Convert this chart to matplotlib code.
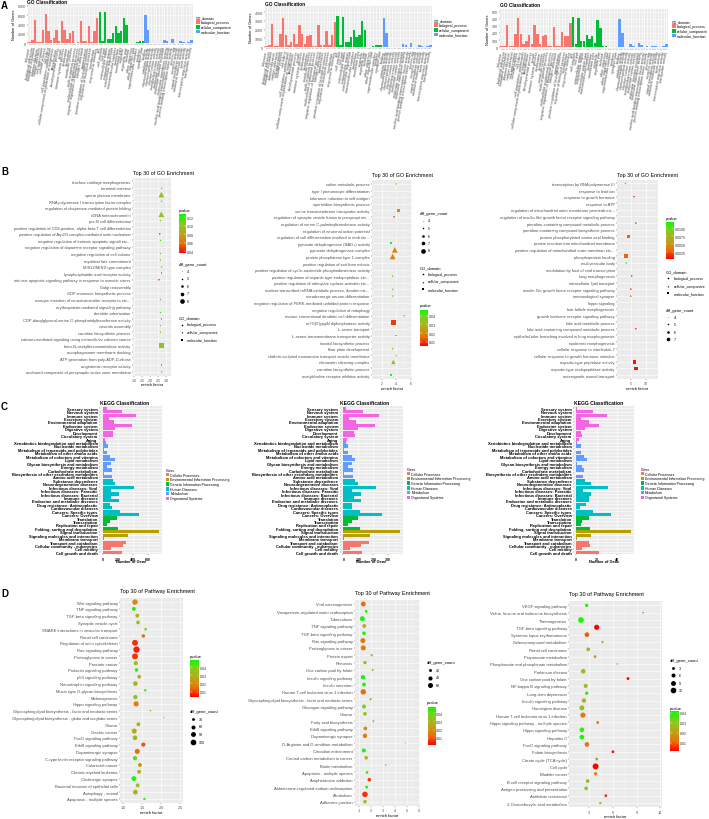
import matplotlib
matplotlib.use("Agg")
import matplotlib.pyplot as plt
import numpy as np
from matplotlib.colors import LinearSegmentedColormap, Normalize
from matplotlib.patches import Rectangle

plt.rcParams['font.family'] = ['Liberation Sans', 'DejaVu Sans']

# ---------------- data: A (GO classification) ----------------
go_bp = ["behavior", "biological adhesion", "biological regulation", "biomineralization",
         "carbon utilization", "cell aggregation", "cellular process", "cell killing",
         "cell population proliferation", "cellular component organization or biogenesis",
         "detoxification", "developmental process", "growth", "immune system process",
         "localization", "locomotion", "metabolic process", "multi-organism process",
         "multicellular organismal process", "negative regulation of biological process",
         "nitrogen utilization", "pigmentation", "positive regulation of biological process",
         "regulation of biological process", "reproduction", "response to stimulus"]
go_cc = ["cell", "cell junction", "cell part", "extracellular matrix", "extracellular region",
         "extracellular region part", "macromolecular complex", "membrane", "membrane part",
         "organelle", "organelle part", "nucleoid", "other organism", "other organism part",
         "supramolecular complex", "synapse", "synapse part"]
go_mf = ["binding", "catalytic activity", "chemoattractant activity", "chemorepellent activity",
         "electron carrier activity", "metallochaperone activity", "molecular carrier activity",
         "molecular function regulator", "molecular transducer activity",
         "nucleic acid binding transcription factor activity",
         "protein binding transcription factor activity", "protein tag", "receptor activity",
         "signal transducer activity", "structural molecule activity", "toxin activity",
         "transcription regulator activity", "transporter activity"]
go_terms = go_bp + go_cc + go_mf
go_domain = ["biological_process"] * len(go_bp) + ["cellular_component"] * len(go_cc) + \
            ["molecular_function"] * len(go_mf)

a1_bp = [300, 600, 4900, 200, 300, 2800, 6300, 2700, 600, 1200, 2800, 400, 4700, 2800, 1000,
         2300, 2700, 100, 200, 4700, 400, 400, 3600, 300, 2600, 5400]
a1_cc = [6700, 400, 6600, 1000, 1000, 2300, 3600, 2300, 2700, 5500, 4000, 50, 100, 100, 300, 500, 500]
a1_mf = [6100, 2900, 0, 100, 0, 0, 0, 800, 400, 0, 1000, 100, 0, 400, 200, 0, 200, 600]

a2_bp = [100, 300, 2600, 100, 100, 1500, 3300, 1400, 200, 600, 1500, 400, 2500, 1500, 400,
         1300, 1400, 100, 100, 2500, 200, 200, 1900, 200, 1400, 2900]
a2_cc = [3600, 300, 3500, 600, 600, 1200, 2000, 1200, 1400, 3000, 2000, 20, 0, 100, 300, 250, 200]
a2_mf = [3300, 1600, 0, 0, 0, 0, 0, 400, 200, 0, 500, 0, 0, 200, 100, 0, 100, 300]

a3_bp = [20, 20, 310, 10, 10, 180, 410, 180, 40, 80, 170, 40, 310, 180, 40, 150, 170, 10, 10,
         290, 10, 10, 220, 160, 150, 340]
a3_cc = [430, 40, 410, 90, 90, 170, 120, 150, 60, 380, 270, 20, 10, 5, 5, 5, 5]
a3_mf = [390, 200, 0, 0, 40, 10, 0, 60, 30, 0, 10, 0, 10, 20, 0, 0, 10, 40]

# ---------------- data: B (GO enrichment) ----------------
b1_terms = ["trachea cartilage morphogenesis", "terminal cisterna", "sperm plasma membrane",
            "RNA polymerase I transcription factor complex",
            "regulation of chaperone-mediated protein folding", "rDNA heterochromatin",
            "pre-B cell differentiation",
            "positive regulation of CD8-positive, alpha-beta T cell differentiation",
            "positive regulation of Arp2/3 complex-mediated actin nucleation",
            "negative regulation of intrinsic apoptotic signali etc...",
            "negative regulation of dopamine receptor signaling pathway",
            "negative regulation of cell volume", "myoblast fate commitment",
            "MIS12/MIND type complex", "lysophosphatidic acid receptor activity",
            "intrinsic apoptotic signaling pathway in response to osmotic stress",
            "Golgi reassembly", "GDP-mannose biosynthetic process",
            "exocytic insertion of neurotransmitter receptor to etc...",
            "erythropoietin-mediated signaling pathway", "dendrite arborization",
            "CDP-diacylglycerol-serine O-phosphatidyltransferase activity", "caveola assembly",
            "carnitine biosynthetic process",
            "calcium-mediated signaling using extracellular calcium source",
            "beta-N-acetylhexosaminidase activity", "autophagosome membrane docking",
            "ATP generation from poly-ADP-D-ribose", "angiotensin receptor activity",
            "anchored component of presynaptic active zone membrane"]
b1_x = [2.7, 2.72, 2.7, 2.72, 2.7, 2.7, 2.65, 2.7, 2.6, 2.65, 2.7, 2.65, 2.65, 2.72, 2.72,
        2.55, 2.7, 2.7, 2.65, 2.7, 2.65, 2.72, 2.65, 2.65, 2.7, 2.72, 2.7, 2.7, 2.72, 2.72]
b1_count = [4, 5, 8, 5, 4, 8, 5, 4, 5, 5, 4, 5, 5, 5, 5, 5, 4, 4, 5, 4, 5, 5, 5, 5, 4, 8, 4, 4, 5, 5]
b1_p = [0.125, 0.12, 0.1, 0.12, 0.125, 0.1, 0.105, 0.125, 0.04, 0.115, 0.125, 0.115, 0.11,
        0.12, 0.12, 0.04, 0.125, 0.125, 0.11, 0.125, 0.115, 0.12, 0.11, 0.1, 0.125, 0.1,
        0.125, 0.125, 0.12, 0.12]
b1_dom = ["BP", "CC", "CC", "CC", "BP", "CC", "BP", "BP", "BP", "BP", "BP", "BP", "BP", "CC",
          "MF", "BP", "BP", "BP", "BP", "BP", "BP", "MF", "BP", "BP", "BP", "MF", "BP", "BP",
          "MF", "CC"]

b2_terms = ["valine metabolic process", "type I pneumocyte differentiation",
            "tolerance induction to self antigen", "spermidine biosynthetic process",
            "serine transmembrane transporter activity",
            "regulation of synaptic vesicle fusion to presynapt etc...",
            "regulation of serine C-palmitoyltransferase activity",
            "regulation of neuronal action potential",
            "regulation of cell differentiation involved in emb etc...",
            "pyruvate dehydrogenase (NAD+) activity", "pyruvate dehydrogenase complex",
            "protein phosphatase type 1 complex", "positive regulation of exit from mitosis",
            "positive regulation of cyclic-nucleotide phosphodiesterase activity",
            "positive regulation of aspartic-type endopeptidase etc...",
            "positive regulation of adenylate cyclase-activatin etc...",
            "nuclear-transcribed mRNA catabolic process, deaden etc...",
            "noradrenergic neuron differentiation",
            "negative regulation of PERK-mediated unfolded protein response",
            "negative regulation of mitophagy",
            "mature conventional dendritic cell differentiation",
            "m7G(5')pppN diphosphatase activity", "L-serine transport",
            "L-serine transmembrane transporter activity", "inositol biosynthetic process",
            "floor plate development", "clathrin-sculpted monoamine transport vesicle membrane",
            "chromatin silencing complex", "carnitine biosynthetic process",
            "acetylcholine receptor inhibitor activity"]
b2_x = [4.0, 4.0, 4.0, 4.0, 4.3, 3.7, 4.0, 4.0, 4.0, 3.3, 3.8, 3.5, 4.0, 4.0, 3.5, 4.0, 3.5,
        3.5, 4.0, 4.0, 5.1, 3.6, 4.0, 4.0, 4.0, 3.5, 4.0, 3.6, 4.0, 3.3]
b2_count = [5, 4, 4, 4, 7, 5, 4, 4, 4, 5, 8, 8, 4, 4, 5, 4, 5, 5, 4, 4, 5, 8, 4, 5, 4, 5, 5, 7, 4, 5]
b2_p = [0.035, 0.045, 0.045, 0.045, 0.02, 0.008, 0.045, 0.045, 0.045, 0.045, 0.018, 0.018,
        0.045, 0.045, 0.04, 0.045, 0.04, 0.04, 0.045, 0.045, 0.025, 0.01, 0.045, 0.035, 0.045,
        0.035, 0.035, 0.03, 0.045, 0.045]
b2_dom = ["BP", "BP", "BP", "BP", "MF", "BP", "BP", "BP", "BP", "MF", "CC", "CC", "BP", "BP",
          "BP", "BP", "BP", "BP", "BP", "BP", "BP", "MF", "BP", "MF", "BP", "BP", "CC", "CC",
          "BP", "MF"]

b3_terms = ["transcription by RNA polymerase III", "response to lead ion",
            "response to growth hormone", "response to ATP",
            "regulation of mitochondrial outer membrane permeab etc...",
            "regulation of insulin-like growth factor receptor signaling pathway",
            "pteridine-containing compound metabolic process",
            "pteridine-containing compound biosynthetic process",
            "protein phosphorylated amino acid binding",
            "protein insertion into mitochondrial membrane",
            "positive regulation of mitochondrial outer membran etc...",
            "phosphoprotein binding", "multivesicular body",
            "modulation by host of viral transcription", "lung morphogenesis",
            "intracellular lipid transport",
            "insulin-like growth factor receptor signaling pathway", "immunological synapse",
            "hippo signaling", "hair follicle morphogenesis",
            "growth hormone receptor signaling pathway", "folic acid metabolic process",
            "folic acid-containing compound metabolic process",
            "epithelial tube branching involved in lung morphogenesis",
            "epidermis morphogenesis", "cellular response to interleukin-7",
            "cellular response to growth hormone stimulus", "aspartic-type peptidase activity",
            "aspartic-type endopeptidase activity", "anterograde axonal transport"]
b3_x = [3.2, 6.0, 6.1, 6.0, 6.0, 6.0, 6.7, 6.0, 4.3, 6.0, 6.0, 3.4, 3.5, 6.0, 5.3, 6.0, 5.0,
        5.0, 6.0, 6.0, 6.0, 6.0, 6.7, 6.0, 6.0, 6.0, 6.0, 6.2, 6.7, 6.0]
b3_count = [5, 4, 5, 4, 4, 4, 5, 4, 6, 4, 4, 7, 5, 4, 5, 4, 5, 5, 4, 4, 4, 4, 5, 4, 4, 4, 4, 7, 7, 4]
b3_p = [0.0075, 0.011, 0.001, 0.011, 0.011, 0.011, 0.001, 0.011, 0.003, 0.011, 0.011, 0.003,
        0.011, 0.011, 0.001, 0.011, 0.001, 0.002, 0.011, 0.011, 0.011, 0.011, 0.001, 0.011,
        0.011, 0.011, 0.011, 0.0008, 0.0008, 0.011]
b3_dom = ["BP", "BP", "BP", "BP", "BP", "BP", "BP", "BP", "MF", "BP", "BP", "MF", "CC", "BP",
          "BP", "BP", "BP", "CC", "BP", "BP", "BP", "BP", "BP", "BP", "BP", "BP", "BP", "MF",
          "MF", "BP"]

# ---------------- data: C (KEGG classification) ----------------
kegg_terms = ["Sensory system", "Nervous system", "Immune system", "Excretory system",
              "Environmental adaptation", "Endocrine system", "Digestive system", "Development",
              "Circulatory system", "Aging",
              "Xenobiotics biodegradation and metabolism", "Nucleotide metabolism",
              "Metabolism of terpenoids and polyketides", "Metabolism of other amino acids",
              "Metabolism of cofactors and vitamins", "Lipid metabolism",
              "Glycan biosynthesis and metabolism", "Energy metabolism",
              "Carbohydrate metabolism", "Biosynthesis of other secondary metabolites",
              "Amino acid metabolism",
              "Substance dependence", "Neurodegenerative diseases", "Infectious diseases: Viral",
              "Infectious diseases: Parasitic", "Infectious diseases: Bacterial",
              "Immune diseases", "Endocrine and metabolic diseases",
              "Drug resistance: Antineoplastic", "Cardiovascular diseases",
              "Cancers: Specific types", "Cancers: Overview",
              "Translation", "Transcription", "Replication and repair",
              "Folding, sorting and degradation",
              "Signal transduction", "Signaling molecules and interaction", "Membrane transport",
              "Transport and catabolism", "Cellular community - eukaryotes", "Cell motility",
              "Cell growth and death"]
kegg_class = ["Organismal Systems"] * 10 + ["Metabolism"] * 11 + ["Human Diseases"] * 11 + \
             ["Genetic Information Processing"] * 4 + \
             ["Environmental Information Processing"] * 3 + ["Cellular Processes"] * 4
c1_vals = [50, 250, 440, 80, 150, 390, 160, 130, 130, 30, 40, 70, 10, 50, 100, 160, 110, 60,
           120, 10, 120, 130, 160, 420, 110, 210, 110, 210, 90, 120, 230, 480, 190, 100, 60,
           200, 750, 330, 10, 310, 270, 110, 250]
c2_vals = [20, 130, 240, 40, 85, 210, 95, 70, 75, 25, 20, 30, 5, 30, 55, 80, 55, 30, 65, 5, 65,
           80, 95, 220, 60, 120, 70, 120, 55, 60, 110, 260, 100, 55, 30, 110, 380, 175, 5, 170,
           120, 45, 125]
c3_vals = [1, 17, 30, 5, 13, 22, 9, 5, 6, 3, 1, 5, 0, 5, 8, 11, 1, 6, 8, 0, 7, 9, 15, 31, 7, 15,
           13, 13, 10, 4, 17, 34, 13, 6, 5, 14, 54, 15, 1, 13, 14, 6, 22]

# ---------------- data: D (pathway enrichment) ----------------
d1_terms = ["Wnt signaling pathway", "TNF signaling pathway", "TGF-beta signaling pathway",
            "Synaptic vesicle cycle", "SNARE interactions in vesicular transport",
            "Renal cell carcinoma", "Regulation of actin cytoskeleton", "Ras signaling pathway",
            "Proteoglycans in cancer", "Prostate cancer", "Prolactin signaling pathway",
            "p53 signaling pathway", "Neurotrophin signaling pathway",
            "Mucin type O-glycan biosynthesis", "Melanogenesis", "Hippo signaling pathway",
            "Glycosphingolipid biosynthesis - lacto and neolacto series",
            "Glycosphingolipid biosynthesis - globo and isoglobo series", "Glioma",
            "Gastric cancer", "FoxO signaling pathway", "ErbB signaling pathway",
            "Dopaminergic synapse", "C-type lectin receptor signaling pathway",
            "Colorectal cancer", "Chronic myeloid leukemia", "Cholinergic synapse",
            "Bacterial invasion of epithelial cells", "Autophagy - animal",
            "Apoptosis - multiple species"]
d1_x = [1.31, 1.28, 1.37, 1.39, 1.59, 1.53, 1.31, 1.35, 1.31, 1.33, 1.35, 1.42, 1.32, 1.58,
        1.32, 1.34, 1.72, 2.07, 1.40, 1.29, 1.31, 1.53, 1.37, 1.31, 1.44, 1.42, 1.28, 1.38,
        1.32, 1.56]
d1_count = [110, 55, 55, 50, 25, 45, 130, 150, 130, 65, 45, 50, 80, 22, 70, 100, 10, 6, 55, 95,
            80, 65, 95, 70, 55, 55, 85, 55, 85, 22]
d1_p = [0.02, 0.046, 0.028, 0.033, 0.04, 0.014, 0.008, 0.006, 0.008, 0.035, 0.047, 0.026,
        0.03, 0.04, 0.034, 0.017, 0.028, 0.03, 0.028, 0.027, 0.032, 0.012, 0.014, 0.04, 0.02,
        0.028, 0.047, 0.034, 0.028, 0.042]

d2_terms = ["Viral carcinogenesis", "Vasopressin-regulated water reabsorption", "Tuberculosis",
            "TNF signaling pathway", "TGF-beta signaling pathway", "Ras signaling pathway",
            "Proteoglycans in cancer", "Protein export", "Pertussis",
            "One carbon pool by folate", "Insulin signaling pathway", "Insulin secretion",
            "Human T-cell leukemia virus 1 infection",
            "Glycosphingolipid biosynthesis - lacto and neolacto series",
            "Glucagon signaling pathway", "Glioma", "Fatty acid biosynthesis",
            "ErbB signaling pathway", "Dopaminergic synapse",
            "D-Arginine and D-ornithine metabolism", "Circadian entrainment",
            "Central carbon metabolism in cancer", "Biotin metabolism",
            "Apoptosis - multiple species", "Amphetamine addiction",
            "Aldosterone-regulated sodium reabsorption", "Alcoholism", "Adherens junction"]
d2_x = [1.36, 1.6, 1.28, 1.44, 1.42, 1.33, 1.36, 2.06, 1.5, 2.14, 1.33, 1.42, 1.36, 1.97,
        1.42, 1.5, 2.2, 1.53, 1.5, 4.86, 1.4, 1.6, 3.22, 1.67, 1.86, 1.64, 1.5, 1.5]
d2_count = [55, 18, 55, 35, 30, 60, 60, 12, 28, 10, 45, 35, 70, 12, 38, 32, 8, 32, 45, 3, 38,
            30, 5, 18, 30, 20, 72, 30]
d2_p = [0.012, 0.046, 0.047, 0.028, 0.046, 0.014, 0.014, 0.027, 0.035, 0.027, 0.046, 0.045,
        0.012, 0.028, 0.038, 0.035, 0.04, 0.018, 0.014, 0.028, 0.045, 0.027, 0.046, 0.042,
        0.007, 0.045, 0.006, 0.034]

d3_terms = ["VEGF signaling pathway", "Valine, leucine and isoleucine biosynthesis",
            "Thermogenesis", "TGF-beta signaling pathway", "Systemic lupus erythematosus",
            "Selenocompound metabolism", "Renal cell carcinoma", "Propanoate metabolism",
            "Phosphonate and phosphinate metabolism", "Parkinson disease",
            "One carbon pool by folate", "NF-kappa B signaling pathway", "Long-term depression",
            "Insulin signaling pathway", "Huntington disease",
            "Human T-cell leukemia virus 1 infection",
            "Hippo signaling pathway - multiple species", "Hippo signaling pathway",
            "Hepatitis C", "FoxO signaling pathway", "Folate biosynthesis",
            "Citrate cycle (TCA cycle)", "Cell cycle", "Bladder cancer",
            "B cell receptor signaling pathway", "Antigen processing and presentation",
            "Antifolate resistance", "2-Oxocarboxylic acid metabolism"]
d3_x = [2.67, 9.85, 1.94, 3.94, 2.7, 4.67, 2.87, 3.73, 6.55, 2.23, 7.92, 2.54, 2.67, 2.32,
        2.06, 2.19, 4.07, 2.06, 2.06, 2.7, 6.0, 3.94, 3.8, 3.8, 2.8, 2.6, 5.1, 4.4]
d3_count = [4, 1, 12, 10, 8, 2, 5, 3, 1, 8, 3, 6, 4, 7, 9, 10, 3, 8, 8, 8, 3, 3, 13, 4, 5, 5, 3, 2]
d3_p = [0.038, 0.02, 0.04, 0.002, 0.01, 0.023, 0.023, 0.02, 0.028, 0.028, 0.002, 0.026,
        0.038, 0.026, 0.028, 0.014, 0.015, 0.038, 0.04, 0.012, 0.004, 0.021, 0.002, 0.015,
        0.024, 0.033, 0.006, 0.027]

# ---------------- styles ----------------
domain_colors = {"biological_process": "#F8766D", "cellular_component": "#00BA38",
                 "molecular_function": "#619CFF"}
class_colors = {"Cellular Processes": "#F8766D", "Environmental Information Processing": "#B79F00",
                "Genetic Information Processing": "#00BA38", "Human Diseases": "#00BFC4",
                "Metabolism": "#619CFF", "Organismal Systems": "#F564E3"}
shape_of = {"BP": "o", "CC": "^", "MF": "s"}
pcmap = LinearSegmentedColormap.from_list(
    "rg", ["#FF0000", "#E8740A", "#BBA61C", "#86CB1E", "#00FF00"])

W, H = 709, 820
fig = plt.figure(figsize=(W / 100, H / 100), dpi=100)
ov = fig.add_axes([0, 0, 1, 1], zorder=10)
ov.set_xlim(0, W)
ov.set_ylim(H, 0)
ov.axis("off")


def px_axes(l, t, w, h):
    return fig.add_axes([l / W, 1 - (t + h) / H, w / W, h / H])


def style(ax, fs=2.5):
    ax.set_facecolor("#EBEBEB")
    for sp in ax.spines.values():
        sp.set_visible(False)
    ax.tick_params(which="major", length=1, width=0.3, color="#333333", labelsize=fs,
                   labelcolor="#4D4D4D", pad=0.7)
    ax.tick_params(which="minor", length=0)
    ax.set_axisbelow(True)
    ax.grid(True, which="major", color="white", lw=0.4)
    ax.grid(True, which="minor", color="white", lw=0.2)


def colorbar(l, t, w, h, vmin, vmax, ticks, labels):
    cax = px_axes(l, t, w, h)
    grad = np.linspace(vmin, vmax, 256)[:, None]
    cax.imshow(grad, aspect="auto", cmap=pcmap, norm=Normalize(vmin, vmax), origin="lower",
               extent=[0, 1, vmin, vmax])
    for tv in ticks:
        cax.plot([0, 0.2], [tv, tv], color="white", lw=0.3)
        cax.plot([0.8, 1], [tv, tv], color="white", lw=0.3)
    cax.set_xlim(0, 1)
    cax.set_ylim(vmin, vmax)
    cax.set_xticks([])
    cax.set_yticks(ticks)
    cax.set_yticklabels(labels)
    cax.yaxis.tick_right()
    cax.tick_params(axis="y", length=0, labelsize=2.6, pad=0.8, labelcolor="#333333")
    for sp in cax.spines.values():
        sp.set_visible(False)


def go_bar_panel(l, t, w, h, vals, ylim, yticks, title_xy, leg_x, leg_y):
    ax = px_axes(l, t, w, h)
    style(ax)
    x = np.arange(len(go_terms))
    ax.bar(x, vals, width=0.9, color=[domain_colors[d] for d in go_domain], zorder=2)
    ax.set_xlim(-0.6, len(x) - 0.4)
    ax.set_ylim(*ylim)
    ax.set_yticks(yticks)
    ax.set_yticks([(a + b) / 2 for a, b in zip(yticks[:-1], yticks[1:])], minor=True)
    ax.set_xticks(x)
    ax.set_xticklabels(go_terms, rotation=80, ha="right", va="center",
                       rotation_mode="anchor", fontsize=2.75)
    ax.set_ylabel("Number of Genes", fontsize=2.8, labelpad=1)
    ov.text(title_xy[0], title_xy[1], "GO Classification", fontsize=3.4, fontweight="bold",
            ha="left", va="center")
    ov.text(leg_x, leg_y, "GO_domain", fontsize=2.5, ha="left", va="center")
    for i, d in enumerate(domain_colors):
        yy = leg_y + 4.6 * (i + 1)
        ov.add_patch(Rectangle((leg_x, yy - 1.8), 4, 3.6, color=domain_colors[d], lw=0))
        ov.text(leg_x + 5, yy, d, fontsize=2.5, ha="left", va="center")


def go_dot_panel(l, t, w, h, terms, xs, counts, pvals, doms, xlim, xticks, xtl, vmin, vmax):
    ax = px_axes(l, t, w, h)
    style(ax, fs=2.6)
    n = len(terms)
    ys = np.arange(n)[::-1]
    norm = Normalize(vmin, vmax)
    for key, m in shape_of.items():
        idx = [i for i in range(n) if doms[i] == key]
        if not idx:
            continue
        sz = [(0.35 + 0.75 * (counts[i] - 4)) ** 2 * (1.5 if m == "^" else 1.0) for i in idx]
        ax.scatter([xs[i] for i in idx], [ys[i] for i in idx], s=sz,
                   c=[pcmap(norm(pvals[i])) for i in idx], marker=m, linewidths=0, zorder=3)
    ax.set_ylim(-0.6, n - 0.4)
    ax.set_yticks(ys)
    ax.set_yticklabels(terms, fontsize=2.85)
    ax.set_xlim(*xlim)
    ax.set_xticks(xticks)
    ax.set_xticklabels(xtl)
    ax.set_xticks([(a + b) / 2 for a, b in zip(xticks[:-1], xticks[1:])], minor=True)
    ov.text(l, t - 5, "Top 30 of GO Enrichment", fontsize=3.9, ha="left", va="center")
    ov.text(l + w / 2, t + h + 9, "enrich factor", fontsize=2.9, ha="center", va="center")


def b_legend_counts(x, y, values):
    ov.text(x, y, "diff_gene_count", fontsize=2.9, ha="left", va="center")
    for i, v in enumerate(values):
        yy = y + 7.5 * (i + 1) - 0.5
        ov.scatter([x + 2.5], [yy], s=(0.35 + 0.75 * (v - 4)) ** 2, c="black", linewidths=0)
        ov.text(x + 8, yy, str(v), fontsize=2.6, ha="left", va="center")


def b_legend_domain(x, y):
    ov.text(x, y, "GO_domain", fontsize=2.9, ha="left", va="center")
    for i, (key, lab) in enumerate(zip(["BP", "CC", "MF"], list(domain_colors))):
        yy = y + 7.5 * (i + 1) - 0.5
        ov.scatter([x + 2.5], [yy], s=1.4, c="black", marker=shape_of[key], linewidths=0)
        ov.text(x + 8, yy, lab, fontsize=2.6, ha="left", va="center")


def kegg_panel(l, t, w, h, vals, xlim, xticks, leg_x, leg_y):
    ax = px_axes(l, t, w, h)
    style(ax)
    n = len(kegg_terms)
    ys = np.arange(n)[::-1]
    ax.barh(ys, vals, height=0.9, color=[class_colors[c] for c in kegg_class], zorder=2)
    ax.set_ylim(-0.6, n - 0.4)
    ax.set_yticks(ys)
    ax.set_yticklabels(kegg_terms, fontsize=2.9, fontweight="bold", color="black")
    ax.set_xlim(*xlim)
    ax.set_xticks(xticks)
    ax.set_xticks([(a + b) / 2 for a, b in zip(xticks[:-1], xticks[1:])] +
                  [xticks[-1] + (xticks[1] - xticks[0]) / 2], minor=True)
    for lab in ax.get_xticklabels():
        lab.set_fontweight("bold")
        lab.set_color("black")
    ov.text(l, t - 4, "KEGG Classification", fontsize=3.6, fontweight="bold", ha="left",
            va="center")
    ov.text(l + w / 2, t + h + 7, "Number of Gene", fontsize=2.8, fontweight="bold",
            ha="center", va="center")
    ov.text(leg_x, leg_y, "Class", fontsize=2.6, ha="left", va="center")
    for i, c in enumerate(class_colors):
        yy = leg_y + 4.7 * (i + 1)
        ov.add_patch(Rectangle((leg_x, yy - 1.7), 3.4, 3.4, color=class_colors[c], lw=0))
        ov.text(leg_x + 4.6, yy, c, fontsize=2.5, ha="left", va="center")


def path_panel(l, t, w, h, terms, xs, counts, pvals, k, xlim, xticks, xtl, vmin, vmax):
    ax = px_axes(l, t, w, h)
    style(ax, fs=2.7)
    n = len(terms)
    ys = np.arange(n)[::-1]
    norm = Normalize(vmin, vmax)
    ax.scatter(xs, ys, s=[k * c for c in counts], c=[pcmap(norm(p)) for p in pvals],
               linewidths=0, zorder=3)
    ax.set_ylim(-0.6, n - 0.4)
    ax.set_yticks(ys)
    ax.set_yticklabels(terms, fontsize=3.0)
    ax.set_xlim(*xlim)
    ax.set_xticks(xticks)
    ax.set_xticklabels(xtl)
    ax.set_xticks([(a + b) / 2 for a, b in zip(xticks[:-1], xticks[1:])], minor=True)
    ov.text(l, t - 7, "Top 30 of Pathway Enrichment", fontsize=4.0, ha="left", va="center")
    ov.text(l + w / 2, t + h + 9, "enrich factor", fontsize=3.0, ha="center", va="center")


def d_legend_counts(x, y, values, k):
    ov.text(x, y, "diff_gene_count", fontsize=3.0, ha="left", va="center")
    for i, v in enumerate(values):
        yy = y + 7.6 * (i + 1)
        ov.scatter([x + 3], [yy], s=k * v, c="black", linewidths=0)
        ov.text(x + 9, yy, str(v), fontsize=2.6, ha="left", va="center")


# ---------------- A ----------------
go_bar_panel(28, 5, 165, 40, a1_bp + a1_cc + a1_mf, (-150, 8400), [0, 2000, 4000, 6000, 8000],
             (27, 2.5), 196, 18.5)
go_bar_panel(265, 7, 167, 42, a2_bp + a2_cc + a2_mf, (-100, 4700), [0, 1000, 2000, 3000, 4000],
             (265, 4.5), 434, 21.5)
go_bar_panel(500, 9.5, 168, 40, a3_bp + a3_cc + a3_mf, (-20, 545), [0, 100, 200, 300, 400, 500],
             (500, 5.5), 672, 22.5)

# ---------------- B ----------------
go_dot_panel(133, 178.5, 38, 198, b1_terms, b1_x, b1_count, b1_p, b1_dom, (0.92, 3.31),
             [1.0, 1.5, 2.0, 2.5, 3.0], ["1.0", "1.5", "2.0", "2.5", "3.0"], 0.036, 0.128)
ov.text(179, 211, "pvalue", fontsize=2.9, ha="left", va="center")
colorbar(179, 215, 6.5, 39, 0.036, 0.128, [0.04, 0.06, 0.08, 0.10, 0.12],
         ["0.04", "0.06", "0.08", "0.10", "0.12"])
b_legend_counts(179, 265, [4, 5, 6, 7, 8])
b_legend_domain(179, 318.5)

go_dot_panel(372, 181, 40, 199, b2_terms, b2_x, b2_count, b2_p, b2_dom, (0.62, 6.2),
             [2, 4, 6], ["2", "4", "6"], 0.0047, 0.047)
b_legend_counts(420, 214.5, [4, 5, 6, 7, 8])
b_legend_domain(420, 268)
ov.text(420, 306.5, "pvalue", fontsize=2.9, ha="left", va="center")
colorbar(420, 310.7, 7.6, 36.6, 0.0047, 0.047, [0.01, 0.02, 0.03, 0.04],
         ["0.01", "0.02", "0.03", "0.04"])

go_dot_panel(617, 180.5, 41, 199.5, b3_terms, b3_x, b3_count, b3_p, b3_dom, (0.33, 14.2),
             [5, 10], ["5", "10"], 0.0004, 0.0121)
ov.text(665.7, 219, "pvalue", fontsize=2.9, ha="left", va="center")
colorbar(665.7, 222.7, 7.6, 37.3, 0.0004, 0.0121, [0.0025, 0.005, 0.0075, 0.01],
         ["0.0025", "0.0050", "0.0075", "0.0100"])
b_legend_domain(665.7, 272.3)
b_legend_counts(665.7, 310.7, [4, 5, 6, 7])

# ---------------- C ----------------
kegg_panel(100, 407.2, 62, 148.2, c1_vals, (-38, 790), [0, 200, 400, 600], 165.7, 471)
kegg_panel(340.5, 407.2, 62, 148.2, c2_vals, (-19, 395), [0, 100, 200, 300], 406.7, 470)
kegg_panel(574, 407.2, 59.5, 148.2, c3_vals, (-2, 56), [0, 20, 40], 640.5, 470)

# ---------------- D ----------------
path_panel(120, 599, 63, 205, d1_terms, d1_x, d1_count, d1_p, 0.14, (0.913, 2.58),
           [1.0, 1.5, 2.0, 2.5], ["1.0", "1.5", "2.0", "2.5"], 0.0031, 0.0489)
ov.text(190, 656.7, "pvalue", fontsize=3.0, ha="left", va="center")
colorbar(190, 660.7, 8.3, 37.6, 0.0031, 0.0489, [0.01, 0.02, 0.03, 0.04],
         ["0.01", "0.02", "0.03", "0.04"])
d_legend_counts(190, 712.3, [30, 60, 90, 120], 0.14)

path_panel(355, 600.6, 65, 206.5, d2_terms, d2_x, d2_count, d2_p, 0.22, (0.67, 6.08),
           [1, 2, 3, 4, 5, 6], ["1", "2", "3", "4", "5", "6"], 0.001, 0.048)
d_legend_counts(426.7, 663.3, [20, 40, 60], 0.22)
ov.text(426.7, 703.3, "pvalue", fontsize=3.0, ha="left", va="center")
colorbar(427.7, 707.7, 7.3, 38.3, 0.001, 0.048, [0.01, 0.02, 0.03, 0.04],
         ["0.01", "0.02", "0.03", "0.04"])

path_panel(569.3, 602, 92.4, 206.4, d3_terms, d3_x, d3_count, d3_p, 1.4, (0.46, 12.2),
           [3, 6, 9, 12], ["3", "6", "9", "12"], 0.0019, 0.0417)
d_legend_counts(670, 661, [3, 6, 9, 12], 1.4)
ov.text(670, 709.3, "pvalue", fontsize=3.0, ha="left", va="center")
colorbar(670, 712.3, 8.3, 39.4, 0.0019, 0.0417, [0.01, 0.02, 0.03, 0.04],
         ["0.01", "0.02", "0.03", "0.04"])

# ---------------- panel letters ----------------
for letter, yy in [("A", 6), ("B", 172), ("C", 407), ("D", 594)]:
    ov.text(1, yy, letter, fontsize=7, fontweight="bold", ha="left", va="center")

fig.savefig("out.png", dpi=100)
